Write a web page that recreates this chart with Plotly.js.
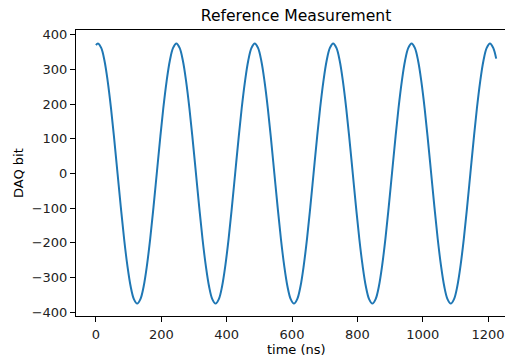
<!DOCTYPE html>
<html>
<head>
<meta charset="utf-8">
<script src="https://cdn.plot.ly/plotly-3.0.1.min.js"></script>
<style>html,body{margin:0;padding:0;background:#fff;}#chart{width:505px;height:356px;}</style>
</head>
<body>
<div id="chart"></div>
<script>
// time (ns)
const timeNs = [0,
  6,16,26,36,46,56,66,76,86,96,106,116,126,136,146,156,166,176,186,196,206,216,226,236,
  246,256,266,276,286,296,306,316,326,336,346,356,366,376,386,396,406,416,426,436,446,456,466,476,
  486,496,506,516,526,536,546,556,566,576,586,596,606,616,626,636,646,656,666,676,686,696,706,716,
  726,736,746,756,766,776,786,796,806,816,826,836,846,856,866,876,886,896,906,916,926,936,946,956,
  966,976,986,996,1006,1016,1026,1036,1046,1056,1066,1076,1086,1096,1106,1116,1126,1136,1146,1156,1166,1176,1186,1196,
  1206,1216,1225];
// DAQ bit values
const daqBit = [370,
  375,362,325,265,188,97,0,-97,-188,-265,-325,-362,-375,-362,-325,-265,-188,-97,0,97,188,265,325,362,
  375,362,325,265,188,97,0,-97,-188,-265,-325,-362,-375,-362,-325,-265,-188,-97,0,97,188,265,325,362,
  375,362,325,265,188,97,0,-97,-188,-265,-325,-362,-375,-362,-325,-265,-188,-97,0,97,188,265,325,362,
  375,362,325,265,188,97,0,-97,-188,-265,-325,-362,-375,-362,-325,-265,-188,-97,0,97,188,265,325,362,
  375,362,325,265,188,97,0,-97,-188,-265,-325,-362,-375,-362,-325,-265,-188,-97,0,97,188,265,325,362,
  375,362,331];
const xTicks = [0,200,400,600,800,1000,1200];
const yTicks = [-400,-300,-200,-100,0,100,200,300,400];

const font = 'DejaVu Sans, sans-serif';
Plotly.newPlot('chart', [{
  x: timeNs, y: daqBit, type: 'scatter', mode: 'lines',
  line: {color: '#1f77b4', width: 2, shape: 'spline', smoothing: 1}
}], {
  width: 505, height: 356,
  margin: {l: 76, r: 0, t: 30, b: 40, pad: 0},
  paper_bgcolor: '#fff', plot_bgcolor: '#fff',
  showlegend: false,
  font: {family: font, color: '#000', size: 13},
  title: {text: 'Reference Measurement', font: {family: font, size: 15.6, color: '#000'},
          x: 0.513, xref: 'paper', xanchor: 'center', y: 1, yref: 'container', yanchor: 'top', pad: {t: 10}},
  xaxis: {
    range: [-61.2, 1252], tickvals: xTicks, ticktext: xTicks.map(String),
    showgrid: false, zeroline: false, showline: true, linecolor: '#000', linewidth: 1,
    mirror: true, ticks: 'outside', ticklen: 5, tickwidth: 1, tickcolor: '#000',
    ticklabelstandoff: 1,
    tickfont: {family: font, size: 13, color: '#222'}
  },
  yaxis: {
    range: [-410.7, 413.6], tickvals: yTicks,
    showgrid: false, zeroline: false, showline: true, linecolor: '#000', linewidth: 1,
    ticks: 'outside', ticklen: 5, tickwidth: 1, tickcolor: '#000',
    tickfont: {family: font, size: 13, color: '#222'}
  },
  annotations: [
    {text: 'time (ns)', xref: 'paper', yref: 'paper', x: (296 - 76) / 429, y: (316 - 349) / 286,
     xanchor: 'center', yanchor: 'middle', showarrow: false, font: {family: font, size: 13, color: '#000'}},
    {text: 'DAQ bit', xref: 'paper', yref: 'paper', x: (18 - 76) / 429, y: (316 - 173) / 286,
     xanchor: 'center', yanchor: 'middle', textangle: -90, showarrow: false, font: {family: font, size: 13, color: '#000'}}
  ]
}, {displayModeBar: false, staticPlot: true});
</script>
</body>
</html>
